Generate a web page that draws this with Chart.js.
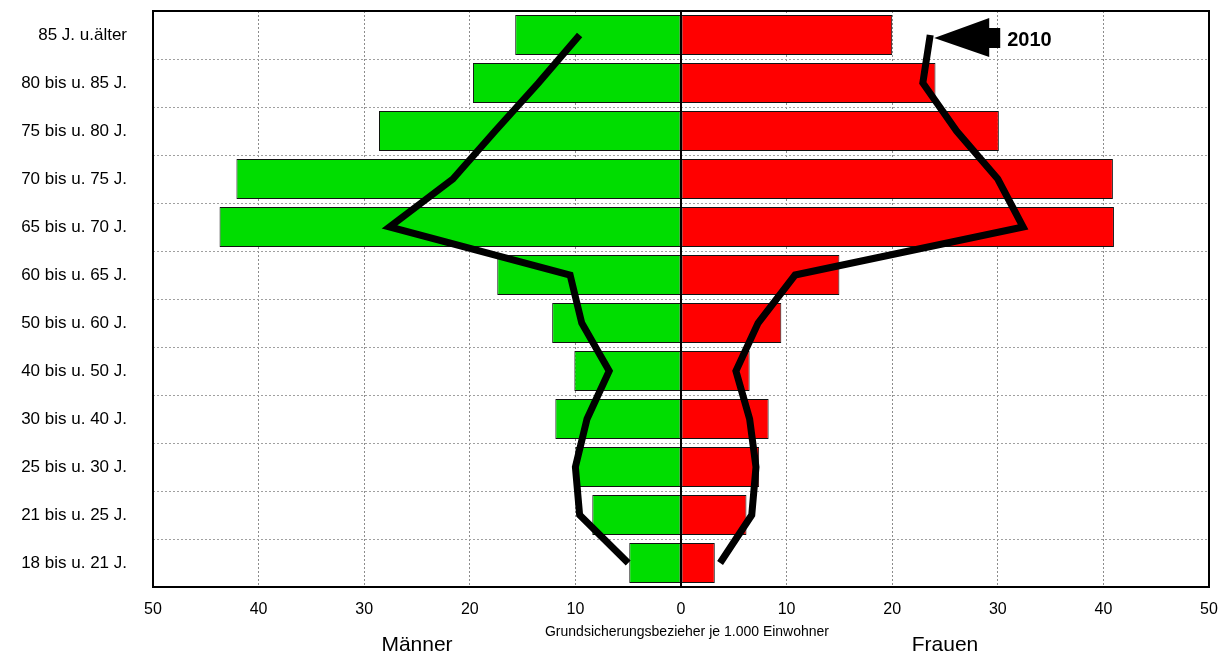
<!DOCTYPE html>
<html>
<head>
<meta charset="utf-8">
<script src="https://cdn.jsdelivr.net/npm/chart.js@4"></script>
<style>
  html, body { margin: 0; padding: 0; background: #fff; }
  #wrap { width: 1224px; height: 655px; }
</style>
</head>
<body>
<div id="wrap"><canvas id="myChart" width="1224" height="655"></canvas></div>
<script>
// age groups, top to bottom
const ageGroups = ['85 J. u.älter', '80 bis u. 85 J.', '75 bis u. 80 J.', '70 bis u. 75 J.',
  '65 bis u. 70 J.', '60 bis u. 65 J.', '50 bis u. 60 J.', '40 bis u. 50 J.',
  '30 bis u. 40 J.', '25 bis u. 30 J.', '21 bis u. 25 J.', '18 bis u. 21 J.'];

// current values (men drawn to the left, so negative)
const maenner = [-15.7, -19.7, -28.6, -42.1, -43.7, -17.4, -12.2, -10.1, -11.9, -10.0, -8.4, -4.9];
const frauen = [20.0, 24.1, 30.1, 40.9, 41.0, 15.0, 9.5, 6.5, 8.3, 7.4, 6.2, 3.2];

// 2010 comparison lines
const maenner2010 = [-9.6, -13.5, -17.6, -21.6, -27.6, -10.5, -9.4, -6.8, -8.9, -10.0, -9.6, -5.0];
const frauen2010 = [23.6, 22.9, 26.1, 30.0, 32.4, 10.8, 7.3, 5.2, 6.5, 7.1, 6.7, 3.7];

const xTicks = [-50, -40, -30, -20, -10, 0, 10, 20, 30, 40, 50];

const FONT = "'Liberation Sans', Arial, sans-serif";

// frame, zero line, arrow + 2010, axis texts
const extras = {
  id: 'extras',
  afterDatasetsDraw(chart) {
    const { ctx, chartArea: a, scales } = chart;
    ctx.save();
    // zero line
    const x0 = scales.x.getPixelForValue(0);
    ctx.strokeStyle = '#000';
    ctx.lineWidth = 2;
    ctx.beginPath();
    ctx.moveTo(x0, a.top);
    ctx.lineTo(x0, a.bottom);
    ctx.stroke();
    // frame
    ctx.strokeRect(a.left, a.top, a.right - a.left, a.bottom - a.top);
    ctx.restore();
  },
  afterDraw(chart) {
    const { ctx, scales } = chart;
    ctx.save();
    // arrow pointing at the 2010 line
    const tipX = scales.x.getPixelForValue(frauen2010[0]) + 4;
    const tipY = scales.y.getPixelForValue(0) + 3;
    ctx.fillStyle = '#000';
    ctx.beginPath();
    ctx.moveTo(tipX, tipY);
    ctx.lineTo(tipX + 55, tipY - 20);
    ctx.lineTo(tipX + 55, tipY - 10);
    ctx.lineTo(tipX + 66, tipY - 10);
    ctx.lineTo(tipX + 66, tipY + 10);
    ctx.lineTo(tipX + 55, tipY + 10);
    ctx.lineTo(tipX + 55, tipY + 19);
    ctx.closePath();
    ctx.fill();
    ctx.font = 'bold 20px ' + FONT;
    ctx.textBaseline = 'middle';
    ctx.textAlign = 'left';
    ctx.fillText('2010', tipX + 73, tipY + 2);

    ctx.textAlign = 'center';
    ctx.font = '14px ' + FONT;
    ctx.fillText('Grundsicherungsbezieher je 1.000 Einwohner', scales.x.getPixelForValue(0) + 6, 632);
    ctx.font = '21px ' + FONT;
    ctx.fillText('Männer', scales.x.getPixelForValue(-25), 645);
    ctx.fillText('Frauen', scales.x.getPixelForValue(25), 645);
    ctx.restore();
  }
};

const data = {
  labels: ageGroups,
  datasets: [
    {
      type: 'line', label: '2010 Männer', data: maenner2010,
      borderColor: '#000', borderWidth: 7, pointRadius: 0, fill: false,
      tension: 0, order: 0
    },
    {
      type: 'line', label: '2010 Frauen', data: frauen2010,
      borderColor: '#000', borderWidth: 7, pointRadius: 0, fill: false,
      tension: 0, order: 0
    },
    {
      type: 'bar', label: 'Männer', data: maenner,
      backgroundColor: '#00DD00', borderColor: '#111', borderWidth: 1,
      borderSkipped: false, grouped: false, barPercentage: 0.83, categoryPercentage: 1, order: 1
    },
    {
      type: 'bar', label: 'Frauen', data: frauen,
      backgroundColor: '#FF0000', borderColor: '#111', borderWidth: 1,
      borderSkipped: false, grouped: false, barPercentage: 0.83, categoryPercentage: 1, order: 1
    }
  ]
};

const config = {
  type: 'bar',
  data,
  plugins: [extras],
  options: {
    indexAxis: 'y',
    responsive: false,
    animation: false,
    layout: { padding: { top: 11, right: 15, left: 0, bottom: 0 } },
    plugins: { legend: { display: false }, tooltip: { enabled: false } },
    scales: {
      x: {
        min: -50, max: 50,
        afterBuildTicks(scale) { scale.ticks = xTicks.map(v => ({ value: v })); },
        afterFit(scale) {
          scale.height = 68;
          scale.paddingLeft = 0;
          scale.paddingRight = 0;
        },
        grid: {
          color: c => (c.tick && c.tick.value === 0) ? 'rgba(0,0,0,0)' : '#8c8c8c',
          lineWidth: 1, drawTicks: false
        },
        border: { display: false, dash: [2, 2] },
        ticks: {
          padding: 13, color: '#000', font: { family: FONT, size: 16 },
          callback: v => Math.abs(v)
        }
      },
      y: {
        afterFit(scale) {
          scale.width = 153;
          scale.paddingTop = 0;
          scale.paddingBottom = 0;
        },
        grid: { color: '#a0a0a0', lineWidth: 1, drawTicks: false, offset: true },
        border: { display: false, dash: [2, 2] },
        ticks: { padding: 26, color: '#000', font: { family: FONT, size: 17 } }
      }
    }
  }
};

new Chart(document.getElementById('myChart'), config);
</script>
</body>
</html>
